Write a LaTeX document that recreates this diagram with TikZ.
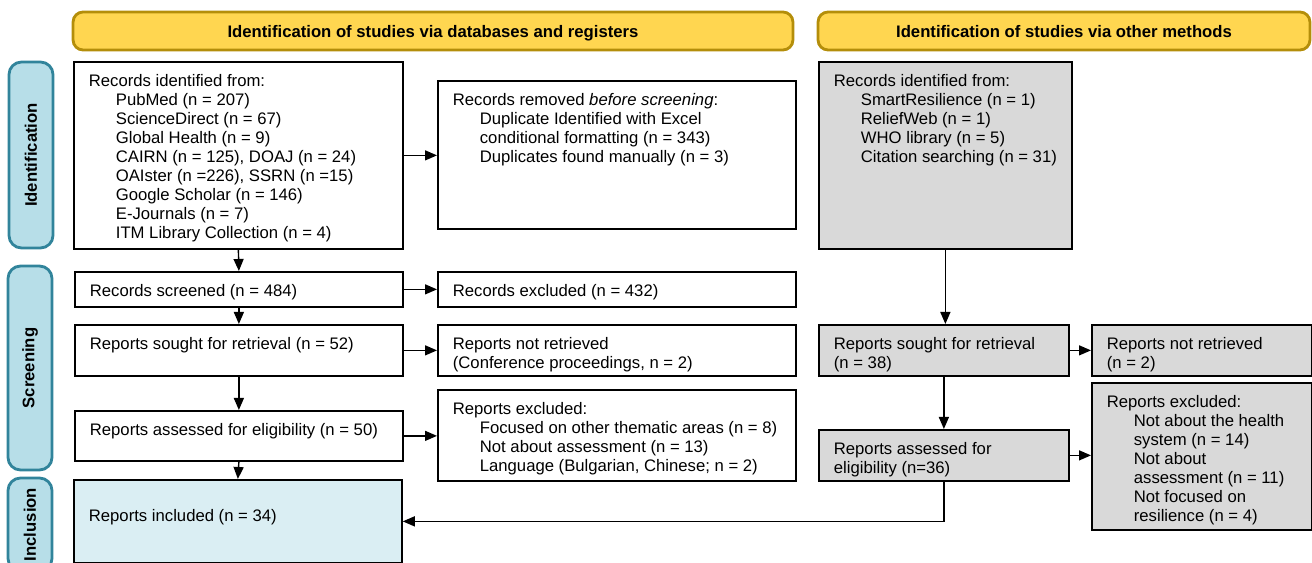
\documentclass[tikz,border=0pt]{standalone}
\usepackage{fontspec}
\setmainfont{Liberation Sans}
\usetikzlibrary{arrows.meta}
\definecolor{hdrfill}{RGB}{255,214,80}
\definecolor{hdrline}{RGB}{180,142,10}
\definecolor{sidefill}{RGB}{183,222,232}
\definecolor{sideline}{RGB}{49,132,155}
\definecolor{incfill}{RGB}{218,238,243}
\definecolor{othfill}{RGB}{217,217,217}
\newdimen\pxu \pxu=0.02cm
\newcommand{\boxtext}[3]{\parbox[c][\dimexpr#2\pxu-0.5cm\relax][t]{\dimexpr#1\pxu-0.6cm\relax}{\raggedright#3}}
\newcommand{\ind}{\hspace*{0.54cm}}
\tikzstyle{every node}=[font=\fontsize{9.5}{10.8}\selectfont]
\tikzstyle{header}=[draw=hdrline,fill=hdrfill,line width=1.6pt,rounded corners=2mm,minimum height=0.76cm,text height=1.5ex,text depth=0pt,font=\fontsize{9.5}{10.8}\selectfont\bfseries]
\tikzstyle{phase}=[draw=sideline,fill=sidefill,line width=1.6pt,rounded corners=2.5mm,rotate=90,minimum height=0.88cm,font=\fontsize{9.5}{10.8}\selectfont\bfseries]
\tikzstyle{stage}=[draw=black,fill=white,line width=1pt,anchor=north west,inner xsep=0.3cm,inner ysep=0.25cm]
\tikzstyle{other}=[stage,fill=othfill]
\tikzstyle{flow}=[line width=0.8pt,-{Triangle[length=2.4mm,width=2mm]}]

\begin{document}
\begin{tikzpicture}[x=0.02cm,y=-0.02cm]
	\useasboundingbox (0,0) rectangle (1312,563);
	% headers and phases
	\node[header,minimum width=14.4cm] (hdrDb) at (433,31) {Identification of studies via databases and registers};
	\node[header,minimum width=9.84cm] (hdrOth) at (1064,31) {Identification of studies via other methods};
	\node[phase,minimum width=3.72cm] (phId) at (31,155) {Identification};
	\node[phase,minimum width=4.08cm] (phScr) at (30,368) {Screening};
	\node[phase,minimum width=1.86cm] (phInc) at (30,524.5) {Inclusion};
	% databases and registers
	\node[stage] (recDb) at (73,61) {\boxtext{329}{187}{Records identified from:\\
		\ind PubMed (n = 207)\\
		\ind ScienceDirect (n = 67)\\
		\ind Global Health (n = 9)\\
		\ind CAIRN (n = 125), DOAJ (n = 24)\\
		\ind OAIster (n =226), SSRN (n =15)\\
		\ind Google Scholar (n = 146)\\
		\ind E-Journals (n = 7)\\
		\ind ITM Library Collection (n = 4)}};
	\node[stage] (removed) at (437,80) {\boxtext{358}{148}{Records removed \emph{before screening}:\\
		\ind Duplicate Identified with Excel\\
		\ind conditional formatting (n = 343)\\
		\ind Duplicates found manually (n = 3)}};
	\node[stage] (screened) at (74,271) {\boxtext{328}{35}{Records screened (n = 484)}};
	\node[stage] (excl) at (437,271) {\boxtext{358}{35}{Records excluded (n = 432)}};
	\node[stage] (sought) at (74,324) {\boxtext{328}{51}{Reports sought for retrieval (n = 52)}};
	\node[stage] (notret) at (437,324) {\boxtext{358}{51}{Reports not retrieved\\ (Conference proceedings, n = 2)}};
	\node[stage] (assessed) at (74,410) {\boxtext{328}{50}{Reports assessed for eligibility (n = 50)}};
	\node[stage] (exclRep) at (437,389) {\boxtext{358}{91}{Reports excluded:\\
		\ind Focused on other thematic areas (n = 8)\\
		\ind Not about assessment (n = 13)\\
		\ind Language (Bulgarian, Chinese; n = 2)}};
	\node[stage,fill=incfill] (included) at (73,479) {\boxtext{328}{83}{\vspace*{0.34cm}Reports included (n = 34)}};
	% other methods
	\node[other] (recOth) at (818,61) {\boxtext{253}{187}{Records identified from:\\
		\ind SmartResilience (n = 1)\\
		\ind ReliefWeb (n = 1)\\
		\ind WHO library (n = 5)\\
		\ind Citation searching (n = 31)}};
	\node[other] (soughtO) at (818,324) {\boxtext{250}{51}{Reports sought for retrieval\\ (n = 38)}};
	\node[other] (notretO) at (1091,324) {\boxtext{220}{51}{Reports not retrieved\\ (n = 2)}};
	\node[other] (assessedO) at (818,429) {\boxtext{250}{51}{Reports assessed for\\ eligibility (n=36)}};
	\node[other] (exclO) at (1091,382) {\boxtext{220}{147}{Reports excluded:\\
		\ind Not about the health\\
		\ind system (n = 14)\\
		\ind Not about\\
		\ind assessment (n = 11)\\
		\ind Not focused on\\
		\ind resilience (n = 4)}};
	% connectors
	\draw[flow] (recDb.south) -- (screened.north);
	\draw[flow] (recDb.east) -- (recDb.east -| removed.west);
	\draw[flow] (screened.east) -- (excl.west);
	\draw[flow] (screened.south) -- (sought.north);
	\draw[flow] (sought.east) -- (notret.west);
	\draw[flow] (sought.south) -- (assessed.north);
	\draw[flow] (assessed.east) -- (assessed.east -| exclRep.west);
	\draw[flow] (assessed.south) -- (included.north);
	\draw[flow] (recOth.south) -- (recOth.south |- soughtO.north);
	\draw[flow] (soughtO.east) -- (notretO.west);
	\draw[flow] (soughtO.south) -- (assessedO.north);
	\draw[flow] (assessedO.east) -- (assessedO.east -| exclO.west);
	\draw[flow] (assessedO.south) |- (included.east);
\end{tikzpicture}
\end{document}
